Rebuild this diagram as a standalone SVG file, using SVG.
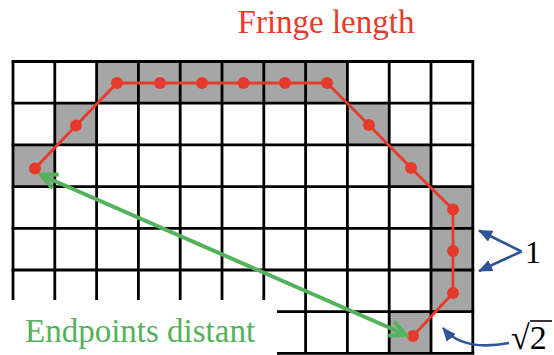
<svg xmlns="http://www.w3.org/2000/svg" width="554" height="355" viewBox="0 0 554 355">
<style>
.grid line{stroke:#000;stroke-width:2.8}
.cell{fill:#a6a6a6}
.dot{fill:#e63a2b}
.fringe{fill:none;stroke:#e63a2b;stroke-width:2.8;stroke-linejoin:round}
.green{fill:none;stroke:#55b25c;stroke-width:4}
.blue{fill:none;stroke:#2f5597;stroke-width:2.6}
.lbl{font-family:"Liberation Serif","Times New Roman",serif}
</style>
<defs>
<marker id="gArrow" viewBox="0 0 20 20" refX="17" refY="10" markerWidth="20" markerHeight="20" markerUnits="userSpaceOnUse" orient="auto-start-reverse">
<path d="M1,2.5 L17,10 L1,17.5" fill="none" stroke="#55b25c" stroke-width="4" stroke-linejoin="miter"/>
</marker>
<marker id="bArrow" viewBox="0 0 14 12" refX="13" refY="6" markerWidth="14" markerHeight="12" markerUnits="userSpaceOnUse" orient="auto">
<path d="M0,0 L14,6 L0,12 Z" fill="#2f5597"/>
</marker>
</defs>
<rect width="554" height="355" fill="#fff"/>
<g id="cells">
<rect class="cell" x="96.6" y="61.5" width="250.8" height="41.7"/>
<rect class="cell" x="54.8" y="103.2" width="41.8" height="41.7"/>
<rect class="cell" x="347.4" y="103.2" width="41.8" height="41.7"/>
<rect class="cell" x="13" y="144.9" width="41.8" height="41.7"/>
<rect class="cell" x="389.2" y="144.9" width="41.8" height="41.7"/>
<rect class="cell" x="431" y="186.6" width="41.8" height="125.1"/>
<rect class="cell" x="389.2" y="311.7" width="41.8" height="41.7"/>
</g>
<g id="grid" class="grid">
<line x1="13" y1="61.5" x2="13" y2="353.4"/>
<line x1="54.8" y1="61.5" x2="54.8" y2="353.4"/>
<line x1="96.6" y1="61.5" x2="96.6" y2="353.4"/>
<line x1="138.4" y1="61.5" x2="138.4" y2="353.4"/>
<line x1="180.2" y1="61.5" x2="180.2" y2="353.4"/>
<line x1="222" y1="61.5" x2="222" y2="353.4"/>
<line x1="263.8" y1="61.5" x2="263.8" y2="353.4"/>
<line x1="305.6" y1="61.5" x2="305.6" y2="353.4"/>
<line x1="347.4" y1="61.5" x2="347.4" y2="353.4"/>
<line x1="389.2" y1="61.5" x2="389.2" y2="353.4"/>
<line x1="431" y1="61.5" x2="431" y2="353.4"/>
<line x1="472.8" y1="61.5" x2="472.8" y2="353.4"/>
<line x1="11.6" y1="61.5" x2="474.2" y2="61.5"/>
<line x1="11.6" y1="103.2" x2="474.2" y2="103.2"/>
<line x1="11.6" y1="144.9" x2="474.2" y2="144.9"/>
<line x1="11.6" y1="186.6" x2="474.2" y2="186.6"/>
<line x1="11.6" y1="228.3" x2="474.2" y2="228.3"/>
<line x1="11.6" y1="270" x2="474.2" y2="270"/>
<line x1="11.6" y1="311.7" x2="474.2" y2="311.7"/>
<line x1="11.6" y1="353.4" x2="474.2" y2="353.4"/>
</g>
<rect id="label-mask" x="0" y="300" width="277" height="55" fill="#fff"/>
<g id="fringe">
<polyline class="fringe" points="35,168.5 76,125.5 117,83 160,83 202,83 243.5,83 285,83 327,83 369,125 411,168 453,209.5 453,251 453,293 413,336"/>
<circle class="dot" cx="35" cy="168.5" r="6"/>
<circle class="dot" cx="76" cy="125.5" r="6"/>
<circle class="dot" cx="117" cy="83" r="6"/>
<circle class="dot" cx="160" cy="83" r="6"/>
<circle class="dot" cx="202" cy="83" r="6"/>
<circle class="dot" cx="243.5" cy="83" r="6"/>
<circle class="dot" cx="285" cy="83" r="6"/>
<circle class="dot" cx="327" cy="83" r="6"/>
<circle class="dot" cx="369" cy="125" r="6"/>
<circle class="dot" cx="411" cy="168" r="6"/>
<circle class="dot" cx="453" cy="209.5" r="6"/>
<circle class="dot" cx="453" cy="251" r="6"/>
<circle class="dot" cx="453" cy="293" r="6"/>
<circle class="dot" cx="413" cy="336" r="6"/>
</g>
<g id="connectors">
<path class="green" d="M41,175 L406,335" marker-start="url(#gArrow)" marker-end="url(#gArrow)"/>
<path class="blue" d="M521.5,251.5 L479,230.5" marker-end="url(#bArrow)"/>
<path class="blue" d="M521.5,251.5 L479,271" marker-end="url(#bArrow)"/>
<path class="blue" d="M509,343 C483,348 458,346 443,328" marker-end="url(#bArrow)"/>
</g>
<g id="labels">
<text class="lbl" x="326" y="33" font-size="33" fill="#e63a2b" text-anchor="middle">Fringe length</text>
<text class="lbl" x="25" y="342" font-size="33" fill="#55b25c">Endpoints distant</text>
<text class="lbl" x="533" y="263" font-size="32" fill="#000" text-anchor="middle">1</text>
<text class="lbl" x="511" y="349" font-size="34" fill="#000">√2</text>
<line x1="530" y1="321" x2="552" y2="321" stroke="#000" stroke-width="1.6"/>
</g>
</svg>
